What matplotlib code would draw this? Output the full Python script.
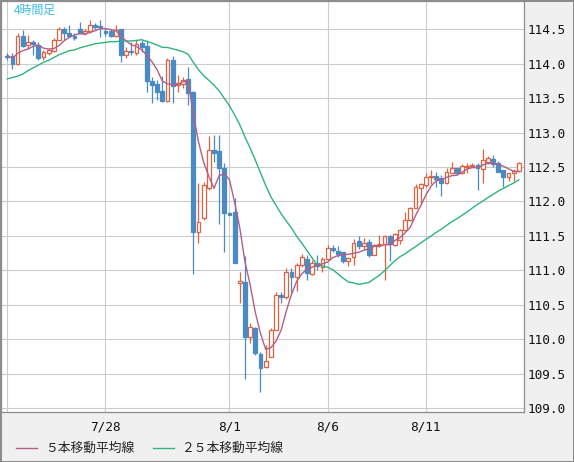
import numpy as np
import pandas as pd
import matplotlib
matplotlib.use('Agg')
import matplotlib.pyplot as plt
from matplotlib.lines import Line2D

# 4-hour candles
opens = [114.11, 114.11, 113.99, 114.40, 114.27, 114.31, 114.27, 114.10, 114.15, 114.19,
         114.35, 114.51, 114.44, 114.41, 114.50, 114.44, 114.47, 114.56, 114.55, 114.47,
         114.47, 114.41, 114.50, 114.12, 114.18, 114.16, 114.30, 114.26, 113.75, 113.70,
         113.60, 113.46, 114.06, 113.69, 113.71, 113.78, 113.59, 111.55, 111.76, 112.20,
         112.75, 112.73, 112.49, 111.83, 111.85, 110.81, 110.83, 110.03, 110.16, 109.79,
         109.59, 109.74, 110.14, 110.64, 110.61, 110.97, 110.90, 111.08, 111.17, 110.95,
         111.10, 111.05, 111.16, 111.33, 111.28, 111.26, 111.14, 111.19, 111.43, 111.36,
         111.41, 111.23, 111.37, 111.38, 111.50, 111.37, 111.44, 111.59, 111.73, 111.91,
         112.20, 112.24, 112.36, 112.37, 112.34, 112.27, 112.42, 112.48, 112.41, 112.50,
         112.52, 112.53, 112.47, 112.58, 112.61, 112.56, 112.46, 112.35, 112.41, 112.44]
highs = [114.15, 114.16, 114.44, 114.49, 114.42, 114.35, 114.32, 114.20, 114.22, 114.37,
         114.54, 114.54, 114.56, 114.45, 114.61, 114.51, 114.64, 114.59, 114.64, 114.50,
         114.50, 114.56, 114.51, 114.25, 114.32, 114.34, 114.34, 114.34, 113.81, 113.77,
         113.82, 114.08, 114.11, 113.84, 113.81, 113.95, 113.60, 112.27, 112.28, 112.95,
         112.97, 112.97, 112.56, 111.85, 112.05, 110.97, 111.21, 110.24, 110.17, 109.82,
         109.91, 110.16, 110.69, 110.68, 111.03, 111.03, 111.10, 111.24, 111.22, 111.15,
         111.22, 111.20, 111.37, 111.37, 111.35, 111.27, 111.19, 111.45, 111.50, 111.47,
         111.45, 111.38, 111.52, 111.51, 111.51, 111.54, 111.60, 111.85, 111.92, 112.25,
         112.27, 112.41, 112.45, 112.43, 112.38, 112.48, 112.57, 112.49, 112.54, 112.56,
         112.56, 112.56, 112.76, 112.66, 112.67, 112.59, 112.46, 112.42, 112.47, 112.58]
lows = [114.06, 113.93, 113.98, 114.25, 114.21, 114.13, 114.06, 114.06, 114.13, 114.17,
        114.34, 114.35, 114.39, 114.35, 114.44, 114.42, 114.44, 114.51, 114.39, 114.40,
        114.39, 114.39, 114.02, 114.09, 114.13, 114.13, 114.17, 113.59, 113.43, 113.47,
        113.45, 113.45, 113.43, 113.59, 113.65, 113.40, 110.94, 111.40, 111.73, 112.16,
        112.58, 111.68, 111.26, 111.80, 111.10, 110.52, 109.42, 109.94, 109.77, 109.24,
        109.58, 109.74, 110.13, 110.52, 110.59, 110.67, 110.70, 111.05, 110.86, 110.93,
        111.01, 110.98, 111.15, 111.27, 111.20, 111.10, 111.06, 111.08, 111.31, 111.30,
        111.19, 111.22, 111.34, 110.86, 111.13, 111.36, 111.38, 111.57, 111.71, 111.90,
        111.97, 112.21, 112.26, 112.21, 112.08, 112.26, 112.41, 112.38, 112.40, 112.41,
        112.50, 112.16, 112.27, 112.55, 112.50, 112.43, 112.21, 112.30, 112.30, 112.43]
closes = [114.10, 113.99, 114.40, 114.26, 114.32, 114.29, 114.09, 114.17, 114.20, 114.35,
          114.51, 114.44, 114.41, 114.38, 114.44, 114.48, 114.56, 114.54, 114.53, 114.44,
          114.41, 114.49, 114.13, 114.18, 114.17, 114.28, 114.25, 113.75, 113.69, 113.59,
          113.46, 114.06, 113.67, 113.72, 113.77, 113.58, 111.56, 111.70, 112.24, 112.75,
          112.71, 112.48, 111.83, 111.81, 111.10, 110.84, 110.03, 110.17, 109.80, 109.58,
          109.69, 110.14, 110.64, 110.61, 110.97, 110.90, 111.08, 111.19, 110.96, 111.10,
          111.06, 111.16, 111.32, 111.29, 111.24, 111.13, 111.18, 111.40, 111.36, 111.39,
          111.23, 111.37, 111.38, 111.50, 111.38, 111.53, 111.59, 111.73, 111.91, 112.21,
          112.25, 112.36, 112.37, 112.32, 112.27, 112.43, 112.48, 112.41, 112.52, 112.52,
          112.53, 112.48, 112.60, 112.63, 112.55, 112.43, 112.35, 112.41, 112.44, 112.56]

# moving average values before enough candles are on screen
ma5_head = [114.12, 114.08, 114.15, 114.19]
ma25_head = [113.78, 113.80, 113.82, 113.85, 113.90, 113.94, 113.98, 114.02, 114.05, 114.09,
             114.13, 114.16, 114.19, 114.20, 114.23, 114.25, 114.27, 114.29, 114.30, 114.31,
             114.32, 114.32, 114.33, 114.33]

x_ticks = [0, 19, 43, 62, 81]
x_labels = ['', '7/28', '8/1', '8/6', '8/11']
y_ticks = [109.0, 109.5, 110.0, 110.5, 111.0, 111.5, 112.0, 112.5, 113.0, 113.5, 114.0, 114.5]

title = '4時間足'
legend_labels = ['５本移動平均線', '２５本移動平均線']

up_col = '#de6240'
down_col = '#4a8bc5'
ma5_col = '#b55d8a'
ma25_col = '#2db57a'
grid_col = '#cccccc'
frame_col = '#8c8c8c'

close_s = pd.Series(closes)
ma5 = close_s.rolling(5).mean().values
ma5[:4] = ma5_head
ma25 = close_s.rolling(25).mean().values
ma25[:24] = ma25_head

W, H = 574, 462
fig = plt.figure(figsize=(W / 100, H / 100), dpi=100)
fig.patch.set_facecolor('#f0f0f0')
fig.patch.set_edgecolor(frame_col)
fig.patch.set_linewidth(2)

ax = fig.add_axes([1 / W, 1 - 412 / H, 522.5 / W, 411 / H])
ax.set_facecolor('white')
for sp in ax.spines.values():
    sp.set_color(frame_col)
    sp.set_linewidth(0.9)

x = np.arange(len(closes))
o = np.array(opens)
c = np.array(closes)
up = c >= o

ax.vlines(x[up], np.array(lows)[up], np.array(highs)[up], color=up_col, lw=0.9, zorder=2)
ax.vlines(x[~up], np.array(lows)[~up], np.array(highs)[~up], color=down_col, lw=0.9, zorder=2)

body_h = np.maximum(np.abs(c - o), 0.006)
body_b = np.minimum(o, c)
ax.bar(x[up], body_h[up], bottom=body_b[up], width=0.72,
       facecolor='white', edgecolor=up_col, linewidth=0.9, zorder=3)
ax.bar(x[~up], body_h[~up], bottom=body_b[~up], width=0.72,
       facecolor=down_col, edgecolor=down_col, linewidth=0.9, zorder=3)

ax.plot(x, ma25, color=ma25_col, lw=1.0, zorder=4)
ax.plot(x, ma5, color=ma5_col, lw=1.0, zorder=4)

ax.set_xlim(-1.22, 99.9)
ax.set_ylim(108.943, 114.911)

ax.set_xticks(x_ticks)
ax.set_xticklabels(x_labels)
ax.set_yticks(y_ticks)
ax.set_yticklabels(['%.1f' % v for v in y_ticks])
ax.yaxis.tick_right()
ax.tick_params(axis='both', length=0, labelsize=9.2, labelcolor='#111111')
ax.tick_params(axis='y', pad=3)
ax.tick_params(axis='x', pad=6)
for lab in ax.get_xticklabels() + ax.get_yticklabels():
    lab.set_family('DejaVu Sans Mono')

ax.grid(True, color=grid_col, lw=0.8, zorder=0)
ax.set_axisbelow(True)

cjk = ['Noto Sans CJK JP', 'DejaVu Sans']
fig.text(14 / W, 1 - 3.5 / H, title, color='#3dbbe8', fontsize=8.6, family=cjk,
         ha='left', va='top')

# legend under the plot
ly = 1 - 448 / H
fig.add_artist(Line2D([16 / W, 37 / W], [ly, ly], color=ma5_col, lw=1.0))
fig.text(45 / W, ly, legend_labels[0], fontsize=9.2, family=cjk, color='#222222',
         ha='left', va='center')
fig.add_artist(Line2D([153 / W, 174 / W], [ly, ly], color=ma25_col, lw=1.0))
fig.text(181 / W, ly, legend_labels[1], fontsize=9.2, family=cjk, color='#222222',
         ha='left', va='center')

fig.savefig('out.png', dpi=100, facecolor=fig.get_facecolor(), edgecolor=fig.get_edgecolor())
